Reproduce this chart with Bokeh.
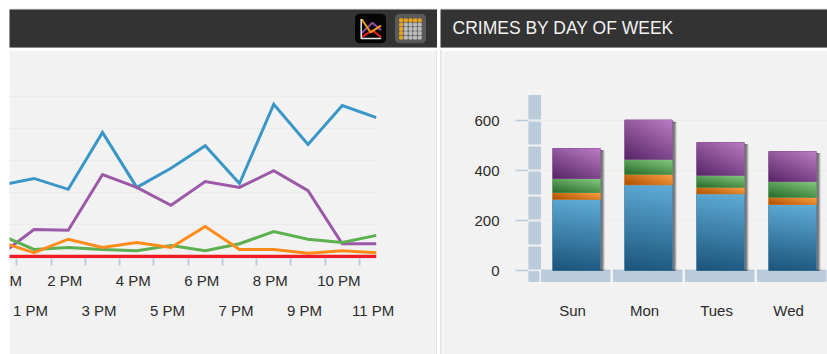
import numpy as np
from bokeh.embed import file_html
from bokeh.resources import INLINE
from bokeh.plotting import figure
from bokeh.layouts import column, row
from bokeh.models import FixedTicker, Grid, LinearAxis, Label, Spacer

# ---------- data ----------
hours = [12, 13, 14, 15, 16, 17, 18, 19, 20, 21, 22, 23]
hour_labels = ["M", "1 PM", "2 PM", "3 PM", "4 PM", "5 PM", "6 PM", "7 PM", "8 PM", "9 PM", "10 PM", "11 PM"]
theft = [111, 122, 105, 194, 108, 138, 173, 114, 238, 175, 236, 217]
assault = [2, 42, 41, 128, 108, 80, 117, 108, 134, 103, 20, 20]
burglary = [34, 11, 14, 11, 9, 17, 9, 20, 39, 27, 22, 33]
robbery = [23, 6, 27, 14, 22, 14, 47, 11, 11, 5, 9, 6]
homicide = [0, 0, 0, 0, 0, 0, 0, 0, 0, 0, 0, 0]

days = ["Sun", "Mon", "Tues", "Wed"]
day_blue = [285, 343, 307, 264]
day_orange = [27, 42, 26, 29]
day_green = [56, 60, 48, 63]
day_purple = [120, 157, 131, 120]
title_right = "CRIMES BY DAY OF WEEK"

FONT = "Liberation Sans"
PANEL = "#f2f2f2"
PLATE = "#bacbdc"
GRID = "#ebebeb"
TXT = "#2b2b2b"
LBL = "15px"


def header(width, xr, margin):
    p = figure(width=width, height=40, x_range=xr, y_range=(48, 8), x_axis_type=None, y_axis_type=None,
               toolbar_location=None, output_backend="svg", min_border=0, min_border_top=1, min_border_bottom=1,
               min_border_left=0, min_border_right=0, background_fill_color="#333333", border_fill_color="#c8c8c8",
               outline_line_color=None, margin=margin, frame_align=False)
    p.grid.visible = False
    return p


# ---------- left header ----------
hl = header(428, (9, 437), (8, 3, 0, 9))
hl.quad(left=[355], right=[385], top=[13], bottom=[43], color="#050505", border_radius=4)
hl.line([361, 372, 380.5], [33, 22, 30], line_color="#8a4aa0", line_width=2.2)
hl.line([361, 372, 380.5], [37, 30, 37], line_color="#e01c20", line_width=2.2)
hl.line([361, 370, 380.5], [18, 32, 25], line_color="#f79a1c", line_width=2)
hl.line([360.7, 360.7, 380.7], [18, 38.5, 38.5], line_color="#e8e8e8", line_width=1.5)
hl.quad(left=[395], right=[425], top=[13], bottom=[43], color="#5a5a5a", border_radius=4)
gx = [400.7, 405.3, 410, 414.6, 419.2]
gy = [19.4, 23.9, 28.4, 33, 37.6]
dx = [a for a in gx for b in gy]
dy = [b for a in gx for b in gy]
dc = ["#eba51c" if (a == gx[0] or b == gy[0]) else "#bdbdbd" for a, b in zip(dx, dy)]
hl.rect(dx, dy, width=3, height=3, color=dc)

# ---------- right header ----------
hr = header(387, (440, 827), (8, 0, 0, 0))
hr.add_layout(Label(x=452, y=27, text=title_right, text_color="#f2f2f2", text_font=FONT, text_font_size="17.5px",
                    text_baseline="middle", text_align="left"))

# ---------- line chart ----------
left = figure(width=427, height=304, x_range=(12.285, 23), y_range=(-3.125, 259.4), x_axis_type=None, y_axis_type=None,
              toolbar_location=None, output_backend="svg", min_border_left=0, min_border_right=60, min_border_top=40,
              min_border_bottom=96, background_fill_color=PANEL, border_fill_color=PANEL, outline_line_color=None,
              margin=(2, 0, 0, 9), frame_align=False)
left.add_layout(Grid(dimension=1, ticker=FixedTicker(ticks=[50, 100, 150, 200, 250]), grid_line_color=GRID, grid_line_width=1.2))
for series, col in [(theft, "#3a96c6"), (assault, "#9b59a8"), (burglary, "#5cb04f"), (robbery, "#ff8c1a"), (homicide, "#ee1c25")]:
    left.line(hours, series, line_color=col, line_width=3 if col != "#ee1c25" else 3.5, line_join="miter")

tick_pos = [12.5] + [h - 0.5 for h in hours[2:]]
ax_t = LinearAxis(ticker=FixedTicker(ticks=tick_pos), major_label_text_color=None, major_label_text_font_size="1px",
                  major_label_standoff=0, axis_line_color=None, major_tick_in=0, major_tick_out=7,
                  major_tick_line_color="#bccbdb", major_tick_line_width=2, minor_tick_line_color=None)
left.add_layout(ax_t, "below")


def label_axis(indices, standoff):
    pos = [round(hours[i] - 0.1, 2) if i else 12.3 for i in indices]
    ax = LinearAxis(ticker=FixedTicker(ticks=pos), major_label_overrides={a: hour_labels[i] for a, i in zip(pos, indices)},
                    axis_line_color=None, major_tick_line_color=None, minor_tick_line_color=None,
                    major_tick_in=0, major_tick_out=0, major_label_standoff=standoff,
                    major_label_text_font=FONT, major_label_text_font_size=LBL, major_label_text_color=TXT)
    left.add_layout(ax, "below")


label_axis([0, 2, 4, 6, 8, 10], 6)
label_axis([1, 3, 5, 7, 9, 11], 10)

# ---------- stacked bars ----------
right = figure(width=385, height=304, x_range=(-0.667, 3.486), y_range=(-48, 720), x_axis_type=None, y_axis_type=None,
               toolbar_location=None, output_backend="svg", min_border_left=86, min_border_right=0, min_border_top=40,
               min_border_bottom=72, background_fill_color=PANEL, border_fill_color=PANEL, outline_line_color=None,
               margin=(2, 0, 0, 0), frame_align=False)
right.add_layout(Grid(dimension=1, ticker=FixedTicker(ticks=[200, 400, 600]), grid_line_color=GRID, grid_line_width=1.2))

idx = list(range(len(days)))
pos = [round(i - 0.055, 3) for i in idx]
yax = LinearAxis(ticker=FixedTicker(ticks=[0, 200, 400, 600]), axis_line_color=None, major_tick_in=0, major_tick_out=13,
                 major_tick_line_color=PLATE, major_tick_line_width=1.5, minor_tick_line_color=None, major_label_standoff=16,
                 major_label_text_font=FONT, major_label_text_font_size=LBL, major_label_text_color=TXT)
right.add_layout(yax, "left")
xax = LinearAxis(ticker=FixedTicker(ticks=pos), major_label_overrides={a: d for a, d in zip(pos, days)},
                 axis_line_color=None, major_tick_line_color=None, minor_tick_line_color=None, major_tick_in=0,
                 major_tick_out=0, major_label_standoff=19, major_label_text_font=FONT, major_label_text_font_size=LBL,
                 major_label_text_color=TXT)
right.add_layout(xax, "below")

# axis plates
px = 1 / 72
right.quad(left=[-0.667] * 7, right=[-0.667 + 12 * px] * 7,
           bottom=[6, 106, 206, 306, 406, 506, 606], top=[94, 194, 294, 394, 494, 594, 700], color=PLATE)
right.quad(left=[-0.667], right=[-0.667 + 10.5 * px], bottom=[-44], top=[-5], color=PLATE)
right.quad(left=[i - 0.485 for i in idx], right=[i + 0.465 for i in idx], bottom=[-44] * 4, top=[2] * 4, color=PLATE)

# bars
bw = 47.5 * px
totals = [a + b + c + d for a, b, c, d in zip(day_blue, day_orange, day_green, day_purple)]
for off, alpha in [(4, 0.1), (3, 0.16), (2, 0.28)]:
    right.vbar(x=[i + off * px for i in idx], top=[t - 8 for t in totals], bottom=[0] * 4, width=bw, color="#000000", alpha=alpha)

stops = {
    "blue": ((0x1d, 0x55, 0x7c), (0x5f, 0xad, 0xd8), 0.08),
    "orange": ((0xb0, 0x50, 0x00), (0xff, 0xa4, 0x48), 0.6),
    "green": ((0x2a, 0x6b, 0x2c), (0x86, 0xcc, 0x80), 0.4),
    "purple": ((0x58, 0x26, 0x68), (0xbb, 0x7c, 0xc4), 0.4),
}


def shade(name):
    lo, hi, wx = stops[name]
    n = 32
    xn, yn = np.meshgrid(np.linspace(0, 1, n), np.linspace(0, 1, n))
    t = wx * xn + (1 - wx) * yn
    img = np.zeros((n, n, 4), dtype=np.uint8)
    for c in range(3):
        img[..., c] = (lo[c] + (hi[c] - lo[c]) * t).astype(np.uint8)
    img[..., 3] = 255
    return img.view(np.uint32).reshape(n, n)


base = [0] * 4
for name, vals in [("blue", day_blue), ("orange", day_orange), ("green", day_green), ("purple", day_purple)]:
    tops = [b + v for b, v in zip(base, vals)]
    lo, hi, _ = stops[name]
    mid = "#%02x%02x%02x" % tuple((a + b) // 2 for a, b in zip(lo, hi))
    right.vbar(x=idx, bottom=base, top=tops, width=bw, color=mid)
    right.image_rgba(image=[shade(name)] * 4, x=[i - bw / 2 for i in idx], y=base, dw=[bw] * 4, dh=vals)
    base = tops

page = column(
    row(hl, hr),
    row(left, Spacer(width=1, height=304, styles={"background": "#e2e2e2"}, margin=(2, 3, 0, 0)),
        Spacer(width=2, height=304, styles={"background": "#e6e6e6"}, margin=(2, 0, 0, 0)), right),
)
open("out.html", "w").write(file_html(page, INLINE))
